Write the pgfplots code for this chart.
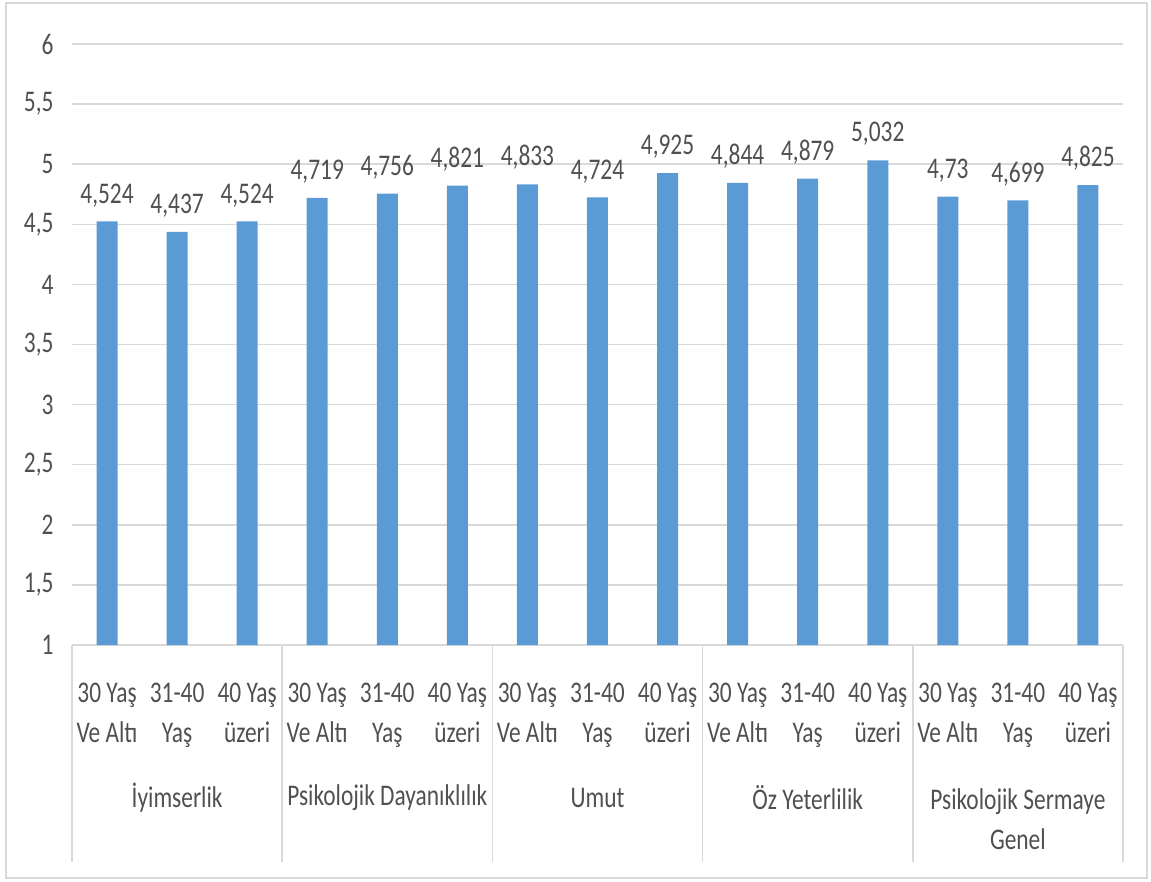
\documentclass[border=0pt]{standalone}
\usepackage{fontspec}
\setmainfont{Carlito}[FakeStretch=0.78]
\usepackage{pgfplots}
\pgfplotsset{compat=1.18}
\definecolor{barblue}{HTML}{5B9BD5}
\definecolor{txt}{HTML}{505050}
\definecolor{gridc}{HTML}{D9D9D9}
\newcommand{\lbl}{\fontsize{30}{40}\selectfont}
\begin{document}
\begin{tikzpicture}
\path (-72pt,-236pt) rectangle (1079pt,645pt);
\draw[gridc, line width=1.5pt] (-66pt,-233pt) rectangle (1075pt,642pt);
\begin{axis}[
  at={(0,0)}, anchor=south west,
  scale only axis, width=1051pt, height=601pt,
  xmin=-0.5, xmax=14.5, ymin=1, ymax=6,
  ybar, bar width=21pt,
  ytick={1,1.5,2,2.5,3,3.5,4,4.5,5,5.5,6},
  xtick={0,...,14},
  xticklabels={{30 Yaş\\Ve Altı},{31-40\\Yaş},{40 Yaş\\üzeri},
               {30 Yaş\\Ve Altı},{31-40\\Yaş},{40 Yaş\\üzeri},
               {30 Yaş\\Ve Altı},{31-40\\Yaş},{40 Yaş\\üzeri},
               {30 Yaş\\Ve Altı},{31-40\\Yaş},{40 Yaş\\üzeri},
               {30 Yaş\\Ve Altı},{31-40\\Yaş},{40 Yaş\\üzeri}},
  /pgf/number format/.cd, use comma, precision=3, assume math mode=true, /pgfplots/.cd,
  axis lines*=left, axis line style={-},
  y axis line style={draw=none},
  x axis line style={draw=gridc, line width=1.5pt},
  major tick length=0pt,
  ymajorgrids, grid style={gridc, line width=1.5pt},
  yticklabel style={font=\lbl, text=txt, xshift=-15pt},
  xticklabel style={font=\lbl, text=txt, align=center, anchor=north, yshift=-34pt},
  nodes near coords,
  nodes near coords style={font=\lbl, text=txt, anchor=south, yshift=11pt},
  clip=false,
]
\addplot[fill=barblue, draw=none] coordinates {
  (0,4.524) (1,4.437) (2,4.524)
  (3,4.719) (4,4.756) (5,4.821)
  (6,4.833) (7,4.724) (8,4.925)
  (9,4.844) (10,4.879) (11,5.032)
  (12,4.73) (13,4.699) (14,4.825)
};
\foreach \s in {-0.5,2.5,5.5,8.5,11.5,14.5}{
  \edef\tmp{\noexpand\draw[gridc, line width=1.5pt] (axis cs:\s,1) -- ([yshift=-217pt]axis cs:\s,1);}\tmp
}
\node[font=\lbl, text=txt] at (axis cs:1,1) [yshift=-153pt] {İyimserlik};
\node[font=\lbl, text=txt] at (axis cs:4,1) [yshift=-153pt] {Psikolojik Dayanıklılık};
\node[font=\lbl, text=txt] at (axis cs:7,1) [yshift=-153pt] {Umut};
\node[font=\lbl, text=txt] at (axis cs:10,1) [yshift=-153pt] {Öz Yeterlilik};
\node[font=\lbl, text=txt, align=center] at (axis cs:13,1) [yshift=-174pt] {Psikolojik Sermaye\\Genel};
\end{axis}
\end{tikzpicture}
\end{document}
